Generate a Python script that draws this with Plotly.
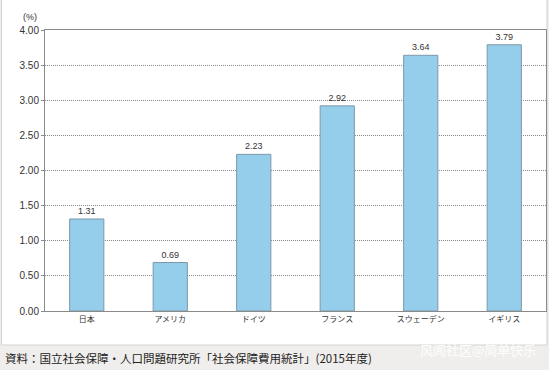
import plotly.graph_objects as go

categories = ["日本", "アメリカ", "ドイツ", "フランス", "スウェーデン", "イギリス"]
values = [1.31, 0.69, 2.23, 2.92, 3.64, 3.79]
value_labels = ["1.31", "0.69", "2.23", "2.92", "3.64", "3.79"]
y_ticks = [0, 0.5, 1, 1.5, 2, 2.5, 3, 3.5, 4]
y_tick_labels = ["0.00", "0.50", "1.00", "1.50", "2.00", "2.50", "3.00", "3.50", "4.00"]
source_text = "資料：国立社会保障・人口問題研究所「社会保障費用統計」(2015年度)"
watermark = "风闻社区@简单快乐"

W, H = 549, 370
L, R, T, B = 45, 3, 30, 59
pw = W - L - R
ph = H - T - B

def px_x(p):
    return (p - L) / pw

def px_y(p):
    return (H - B - p) / ph

fig = go.Figure()
fig.add_trace(go.Bar(
    x=categories, y=values,
    text=value_labels, textposition="outside",
    textfont=dict(size=9, color="#333333", family="Liberation Sans, Arial, sans-serif"),
    marker=dict(color="#94CEEA", line=dict(color="#7E98A8", width=1)),
    width=0.41, cliponaxis=False,
))

fig.update_layout(
    width=W, height=H,
    margin=dict(l=L, r=R, t=T, b=B),
    paper_bgcolor="#EFEEEC",
    plot_bgcolor="white",
    showlegend=False,
    font=dict(family="Liberation Sans, Noto Sans CJK JP, sans-serif", color="#333333"),
    xaxis=dict(
        showgrid=False, showline=True, linecolor="#8a8a8a", linewidth=1, mirror=True,
        ticks="", tickfont=dict(size=8, family="Noto Sans CJK JP, sans-serif", color="#333333"),
        range=[-0.5, 5.5], fixedrange=True,
    ),
    yaxis=dict(
        range=[0, 4], tickvals=y_ticks, ticktext=y_tick_labels,
        showgrid=True, gridcolor="#8a8a8a", griddash="1px,1px", gridwidth=1,
        showline=True, linecolor="#8a8a8a", linewidth=1, mirror=True,
        ticks="outside", ticklen=3, tickcolor="#8a8a8a",
        tickfont=dict(size=10, color="#333333", family="Liberation Sans, Arial, sans-serif"),
        zeroline=False, fixedrange=True,
    ),
    shapes=[dict(
        type="rect", xref="paper", yref="paper", layer="below",
        x0=px_x(1.5), x1=px_x(547), y0=px_y(345), y1=px_y(-5),
        fillcolor="white", line=dict(color="#D2D2D2", width=1),
    )],
    annotations=[
        dict(text="(%)", xref="paper", yref="paper", x=px_x(30), y=px_y(17),
             xanchor="center", yanchor="middle",
             showarrow=False, font=dict(size=9, color="#333333")),
        dict(text=source_text, xref="paper", yref="paper", x=px_x(3), y=px_y(358),
             xanchor="left", yanchor="middle", showarrow=False,
             font=dict(size=11.5, color="#222222", family="Noto Sans CJK JP, sans-serif")),
        dict(text=watermark, xref="paper", yref="paper", x=px_x(418), y=px_y(349),
             xanchor="left", yanchor="middle", showarrow=False,
             font=dict(size=13, color="rgba(255,255,255,0.95)", family="Noto Sans CJK SC, sans-serif")),
    ],
)

fig.write_html("out.html", config={"displayModeBar": False})

with open("out.html", "r", encoding="utf-8") as f:
    html = f.read()
html = html.replace("<head>", "<head><style>html,body{margin:0;padding:0;overflow:hidden;}</style>", 1)
with open("out.html", "w", encoding="utf-8") as f:
    f.write(html)
